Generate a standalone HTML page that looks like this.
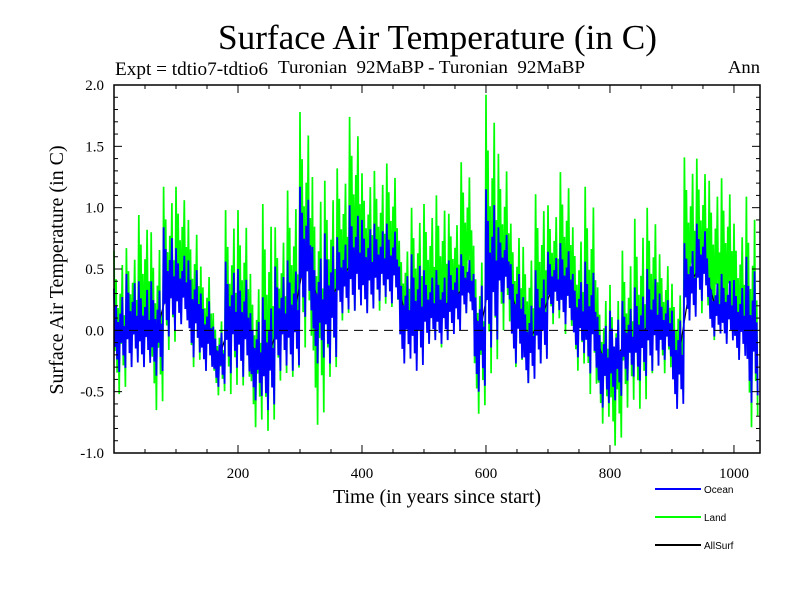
<!DOCTYPE html>
<html><head><meta charset="utf-8"><style>
body{margin:0;background:#fff;}
svg{display:block;font-family:"Liberation Serif",serif;}
</style></head><body>
<svg id="chart" width="800" height="600">
<text x="218" y="49" font-size="35" textLength="439" lengthAdjust="spacingAndGlyphs">Surface Air Temperature (in C)</text>
<text x="115" y="75" font-size="19" textLength="153" lengthAdjust="spacingAndGlyphs">Expt = tdtio7-tdtio6</text>
<text x="278" y="73" font-size="18" textLength="307" lengthAdjust="spacingAndGlyphs" xml:space="preserve">Turonian  92MaBP - Turonian  92MaBP</text>
<text x="728" y="73" font-size="18" textLength="32" lengthAdjust="spacingAndGlyphs">Ann</text>
<text transform="translate(63,270) rotate(-90)" font-size="20" text-anchor="middle">Surface Air Temperature (in C)</text>
<text x="437" y="503" font-size="20" text-anchor="middle">Time (in years since start)</text>
<g id="series"></g>
<g id="axes"></g>
<g id="legend" font-family="Liberation Sans, sans-serif" font-size="10"></g>
</svg>
<script>
const binStart=[0,20,40,60,80,100,120,140,160,180,200,220,240,260,280,300,320,340,360,380,400,420,440,460,480,500,520,540,560,580,600,620,640,660,680,700,720,740,760,780,800,820,840,860,880,900,920,940,960,980,1000,1020];
const landHi=[0.65,0.67,0.94,0.8,1.17,1.17,0.9,0.52,0.14,0.98,0.98,0.46,1.03,0.84,1.14,1.78,1.25,1.22,1.32,1.74,1.28,1.3,1.36,0.73,1.0,1.03,1.1,0.95,1.37,0.69,1.92,1.44,0.87,0.68,1.11,1.02,1.29,0.84,1.17,0.35,0.37,0.65,0.91,1.0,0.62,0.38,1.41,1.4,1.22,1.24,0.87,1.09];
const landLo=[-0.52,-0.27,-0.26,-0.65,-0.16,0.08,-0.3,-0.33,-0.53,-0.52,-0.45,-0.79,-0.82,-0.41,-0.38,-0.14,-0.77,-0.38,0.08,0.16,0.16,0.16,0.19,-0.14,-0.24,-0.11,-0.14,0.03,0.14,-0.68,-0.35,0,-0.3,-0.43,-0.27,0.05,-0.03,-0.33,-0.52,-0.76,-0.94,-0.63,-0.64,-0.35,-0.35,-0.57,0.08,0.14,-0.08,-0.08,-0.24,-0.79];
const oceanHi=[0.34,0.46,0.4,0.4,0.84,0.67,0.57,0.3,0.03,0.56,0.5,0.14,0.27,0.52,0.57,1.17,0.68,0.79,0.76,1.02,0.9,0.87,0.87,0.52,0.62,0.49,0.49,0.57,0.62,0.46,1.15,0.84,0.54,0.27,0.49,0.64,0.71,0.46,0.56,0.11,0.16,0.24,0.35,0.5,0.3,0.16,0.71,0.87,0.43,0.46,0.41,0.6];
const oceanLo=[-0.34,-0.3,-0.3,-0.37,-0.05,0.05,-0.22,-0.33,-0.46,-0.35,-0.38,-0.57,-0.65,-0.33,-0.33,0.11,-0.27,-0.27,0.14,0.16,0.14,0.24,0.22,-0.27,-0.33,-0.11,-0.11,-0.03,0.14,-0.5,-0.14,0.22,-0.27,-0.43,-0.27,0.14,0.05,-0.22,-0.35,-0.63,-0.57,-0.41,-0.41,-0.33,-0.24,-0.64,0.08,0.24,-0.05,-0.11,-0.24,-0.59];
const yTicks=[-1.0,-0.5,0.0,0.5,1.0,1.5,2.0];
const xTicks=[200,400,600,800,1000];
const binWidth=20;

const X0=114,X1=760,Y0=85,Y1=453;
const xMin=0,xMax=1042,yMin=-1,yMax=2;
const sx=v=>X0+(v-xMin)/(xMax-xMin)*(X1-X0);
const sy=v=>Y1-(v-yMin)/(yMax-yMin)*(Y1-Y0);
const NS="http://www.w3.org/2000/svg";
const pattern=[1,0.3,0.8,0.15,0.6,0,0.7,0.35,0.9,0.2,0.55,0.05];

function seriesPath(hi,lo){
  let d="";
  binStart.forEach((b,i)=>{
    const n=pattern.length;
    for(let k=0;k<n;k++){
      const t=b+binWidth*k/n;
      const v=lo[i]+(hi[i]-lo[i])*pattern[k];
      d+=(d?"L":"M")+sx(t).toFixed(1)+","+sy(v).toFixed(1);
    }
  });
  return d;
}
const sg=document.getElementById('series');
function addPath(d,color,w,name){
  const p=document.createElementNS(NS,'path');
  p.setAttribute('d',d);p.setAttribute('fill','none');p.setAttribute('stroke',color);p.setAttribute('stroke-width',w);
  
  
  sg.appendChild(p);
}
addPath(seriesPath(landHi,landLo),'#00ff00',1.7,'land-line');
let dAll="";
binStart.forEach((b,i)=>{dAll+=(i?"L":"M")+sx(b+10).toFixed(1)+","+sy((oceanHi[i]+oceanLo[i])/2).toFixed(1);});
addPath(dAll,'#000',1.2,'allsurf-line');
addPath(seriesPath(oceanHi,oceanLo),'#0000ff',1.8,'ocean-line');

const ax=document.getElementById('axes');
function line(x1,y1,x2,y2,name,extra){
  const l=document.createElementNS(NS,'line');
  l.setAttribute('x1',x1);l.setAttribute('y1',y1);l.setAttribute('x2',x2);l.setAttribute('y2',y2);
  l.setAttribute('stroke','#000');l.setAttribute('stroke-width',extra&&extra.w||1);
  if(extra&&extra.dash)l.setAttribute('stroke-dasharray',extra.dash);
  
  
  ax.appendChild(l);
}
function text(x,y,s,anchor,name){
  const t=document.createElementNS(NS,'text');
  t.setAttribute('x',x);t.setAttribute('y',y);t.setAttribute('font-size','15');t.setAttribute('text-anchor',anchor);
  t.textContent=s;
  
  
  ax.appendChild(t);
}
line(X0,sy(0),X1,sy(0),'zero-line',{dash:'9,6'});
const r=document.createElementNS(NS,'rect');
r.setAttribute('x',X0);r.setAttribute('y',Y0);r.setAttribute('width',X1-X0);r.setAttribute('height',Y1-Y0);
r.setAttribute('fill','none');r.setAttribute('stroke','#000');r.setAttribute('stroke-width','1.5');


ax.appendChild(r);
for(let v=-10;v<=20;v++){
  const y=sy(v/10),len=(v%5===0)?8:4;
  line(X0,y,X0+len,y,'y-tick');line(X1-len,y,X1,y,'y-tick');
}
yTicks.forEach(v=>text(104,sy(v)+5,v.toFixed(1),'end','y-tick-label'));
for(let v=50;v<xMax;v+=50){
  const x=sx(v),len=(v%200===0)?8:4;
  line(x,Y1,x,Y1-len,'x-tick');line(x,Y0,x,Y0+len,'x-tick');
}
xTicks.forEach(v=>text(sx(v),478,String(v),'middle','x-tick-label'));

const lg=document.getElementById('legend');
[['Ocean','#0000ff',489],['Land','#00ff00',517],['AllSurf','#000',545]].forEach(([n,c,y])=>{
  const l=document.createElementNS(NS,'line');
  l.setAttribute('x1',655);l.setAttribute('x2',701);l.setAttribute('y1',y);l.setAttribute('y2',y);
  l.setAttribute('stroke',c);l.setAttribute('stroke-width',2);
  
  
  lg.appendChild(l);
  const t=document.createElementNS(NS,'text');
  t.setAttribute('x',704);t.setAttribute('y',y+4);t.textContent=n;
  
  
  lg.appendChild(t);
});
</script>
</body></html>
